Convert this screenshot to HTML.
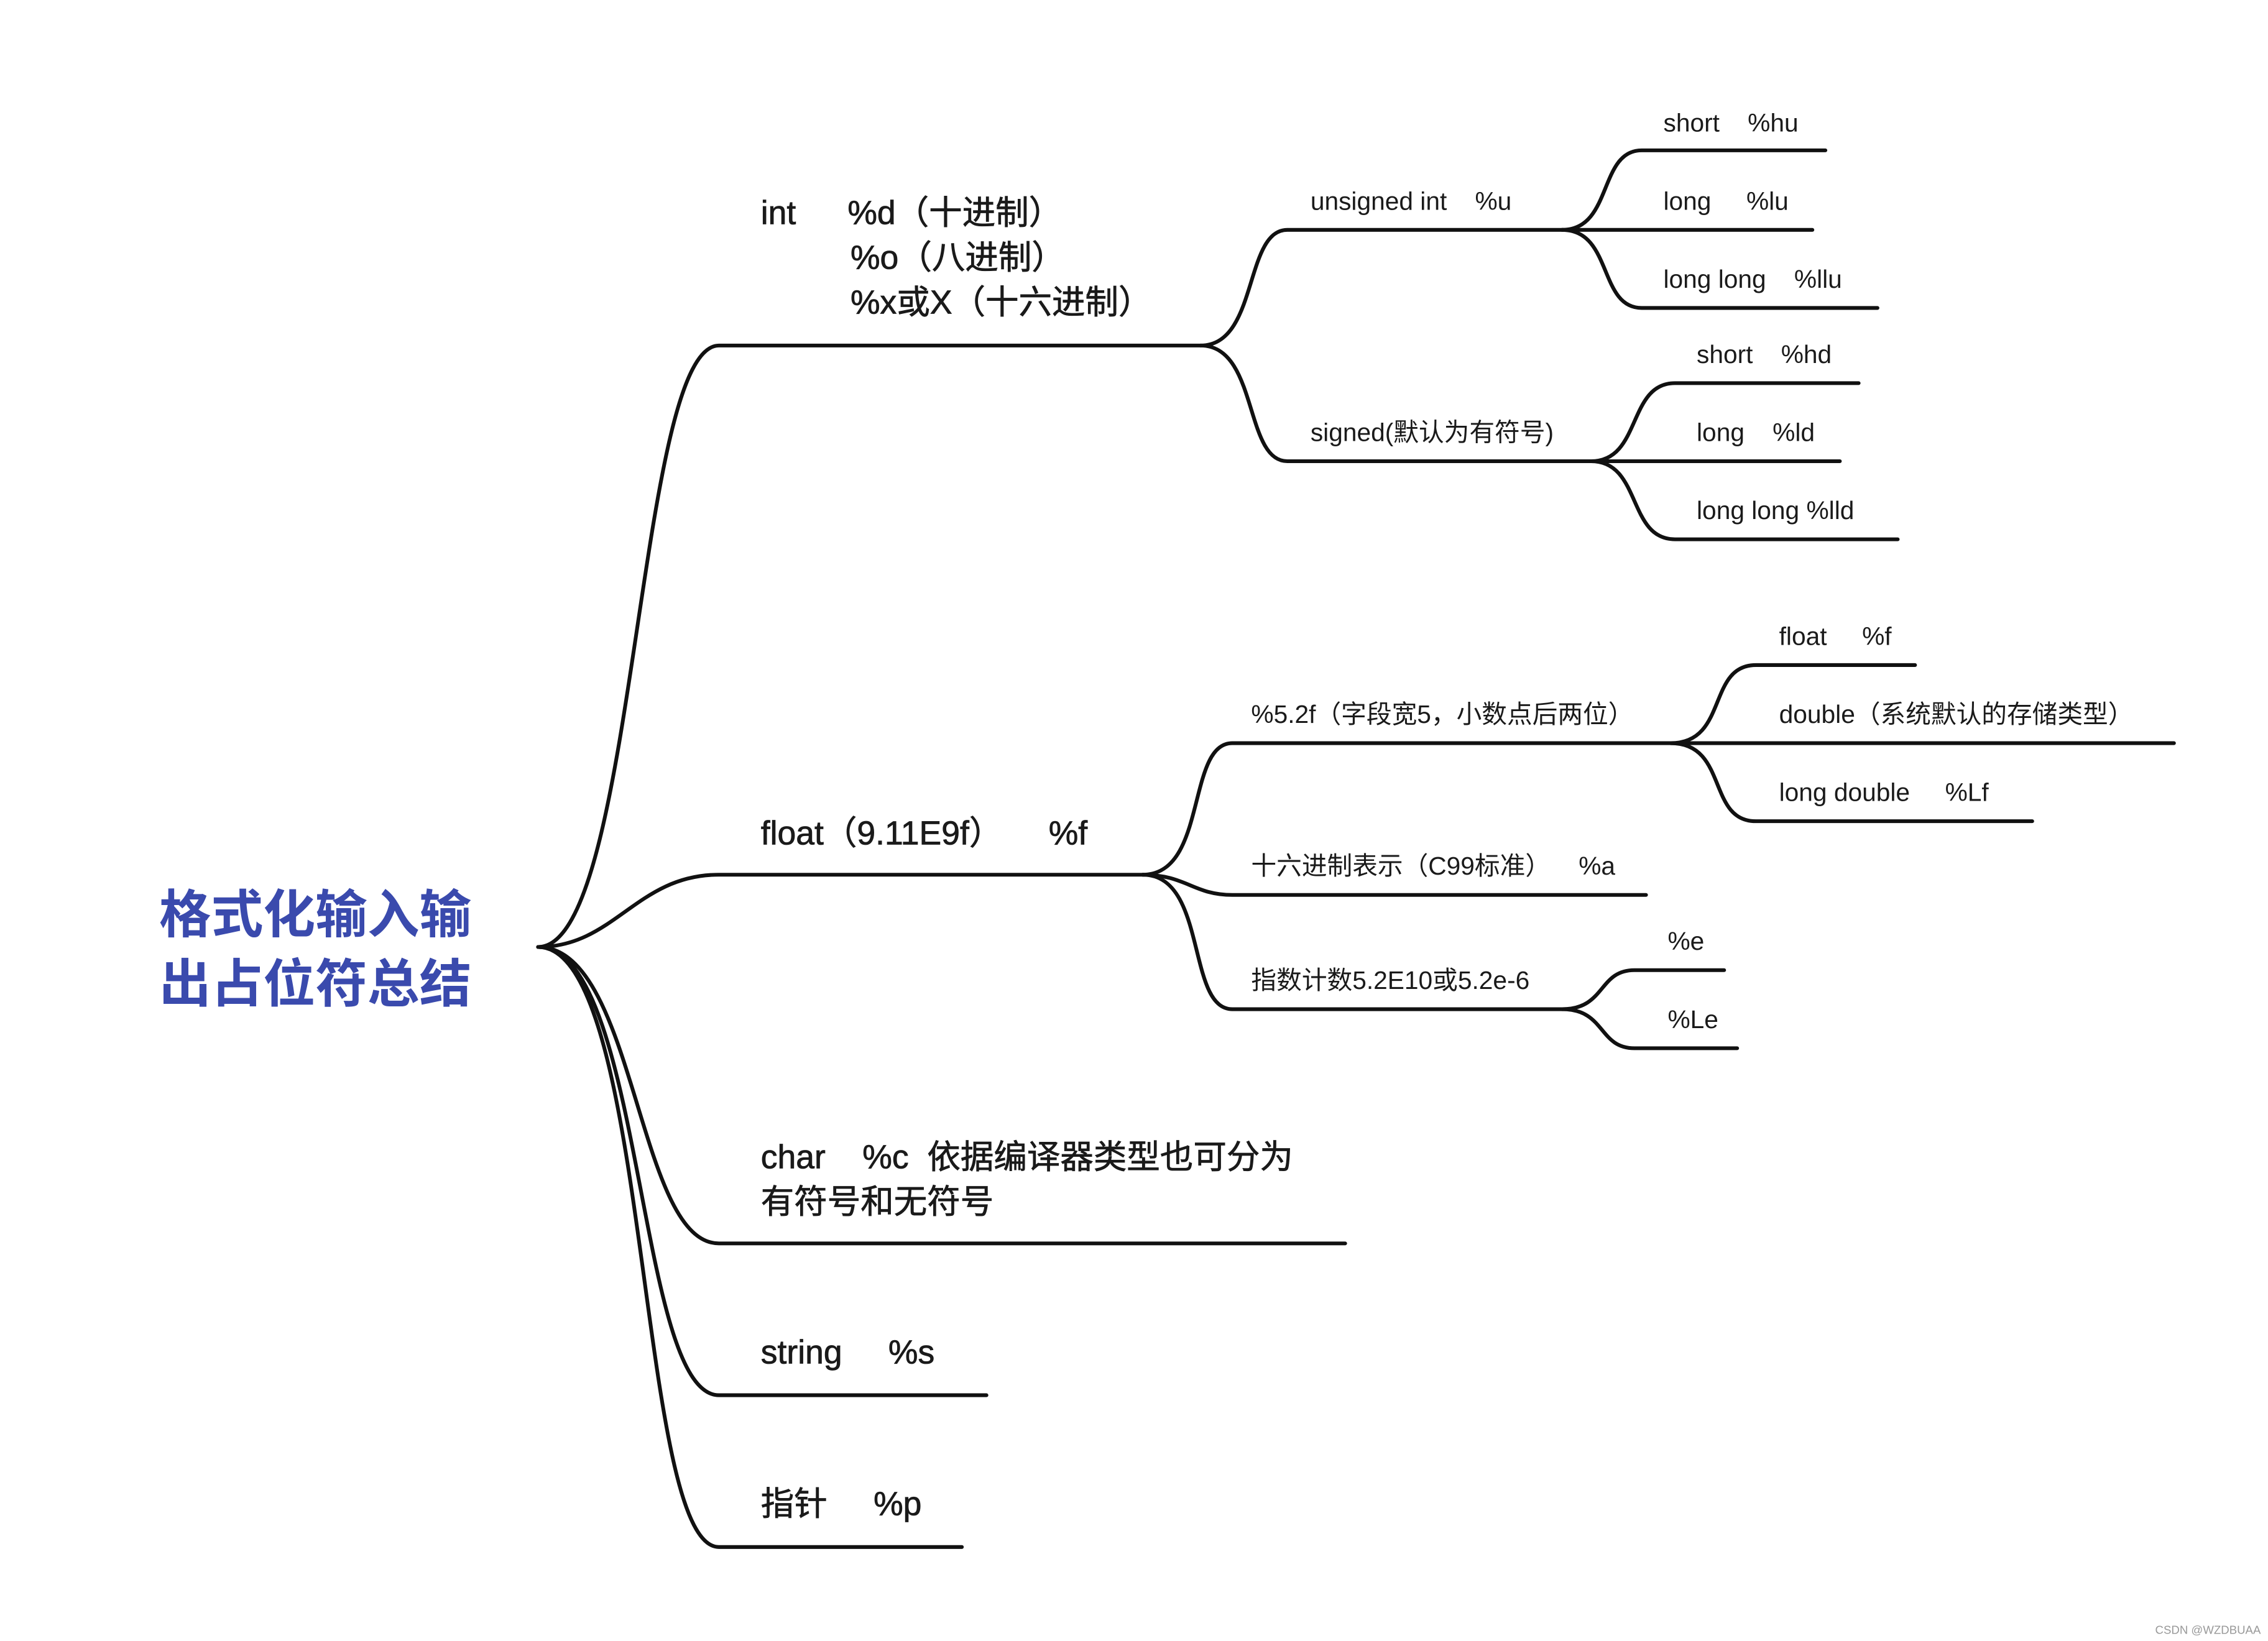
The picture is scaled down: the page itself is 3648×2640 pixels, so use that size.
<!DOCTYPE html>
<html><head><meta charset="utf-8"><style>
html,body{margin:0;padding:0;background:#fff;}
svg{display:block;}
text{font-family:"Liberation Sans","Noto Sans CJK SC",sans-serif;fill:#1a1a1a;white-space:pre;}
.m text{stroke:#1a1a1a;stroke-width:0.35;}
</style></head><body>
<svg width="3648" height="2640" viewBox="0 0 1568 1135" preserveAspectRatio="none" xmlns="http://www.w3.org/2000/svg">
<g fill="none" stroke="#111" stroke-width="2.6" stroke-linecap="round">
<path d="M372 655 C440 655 440 239 497 239 L830 239"/>
<path d="M372 655 C425 655 440 605 497 605 L790 605"/>
<path d="M372 655 C440 655 440 860 497 860 L930 860"/>
<path d="M372 655 C445 655 440 965 497 965 L682 965"/>
<path d="M372 655 C450 655 440 1070 497 1070 L665 1070"/>
<path d="M830 239 C870 239 860 159 890 159 L1080 159"/>
<path d="M830 239 C870 239 860 319 890 319 L1100 319"/>
<path d="M1080 159 C1115 159 1105 104 1135 104 L1262 104"/>
<path d="M1080 159 L1253 159"/>
<path d="M1080 159 C1115 159 1105 213 1135 213 L1298 213"/>
<path d="M1100 319 C1135 319 1125 265 1158 265 L1285 265"/>
<path d="M1100 319 L1272 319"/>
<path d="M1100 319 C1135 319 1125 373 1158 373 L1312 373"/>
<path d="M790 605 C835 605 820 514 852 514 L1155 514"/>
<path d="M790 605 C820 605 825 619 852 619 L1138 619"/>
<path d="M790 605 C835 605 820 698 852 698 L1080 698"/>
<path d="M1155 514 C1195 514 1180 460 1214 460 L1324 460"/>
<path d="M1155 514 L1503 514"/>
<path d="M1155 514 C1195 514 1180 568 1214 568 L1405 568"/>
<path d="M1080 698 C1110 698 1105 671 1130 671 L1192 671"/>
<path d="M1080 698 C1110 698 1105 725 1130 725 L1201 725"/>
</g>
<g style="font-weight:bold" font-size="36">
<text x="110" y="645" style="fill:#3a4aad">格式化输入输</text>
<text x="110" y="693" style="fill:#3a4aad">出占位符总结</text>
</g>
<g class="m" font-size="23">
<text x="526" y="155">int</text><text x="586" y="155">%d（十进制）</text>
<text x="588" y="186">%o（八进制）</text>
<text x="588" y="217">%x或X（十六进制）</text>
<text x="526" y="584">float（9.11E9f）     %f</text>
<text x="526" y="808">char    %c  依据编译器类型也可分为</text>
<text x="526" y="839">有符号和无符号</text>
<text x="526" y="943">string     %s</text>
<text x="526" y="1048">指针     %p</text>
</g>
<g font-size="17.5">
<text x="906" y="145">unsigned int    %u</text>
<text x="906" y="305">signed(默认为有符号)</text>
<text x="1150" y="91">short    %hu</text>
<text x="1150" y="145">long     %lu</text>
<text x="1150" y="199">long long    %llu</text>
<text x="1173" y="251">short    %hd</text>
<text x="1173" y="305">long    %ld</text>
<text x="1173" y="359">long long %lld</text>
<text x="865" y="500">%5.2f（字段宽5，小数点后两位）</text>
<text x="865" y="605">十六进制表示（C99标准）    %a</text>
<text x="865" y="684">指数计数5.2E10或5.2e-6</text>
<text x="1230" y="446">float     %f</text>
<text x="1230" y="500">double（系统默认的存储类型）</text>
<text x="1230" y="554">long double     %Lf</text>
<text x="1153" y="657">%e</text>
<text x="1153" y="711">%Le</text>
</g>
<text x="1490" y="1130" font-size="8" style="fill:#999">CSDN @WZDBUAA</text>
</svg>
</body></html>
